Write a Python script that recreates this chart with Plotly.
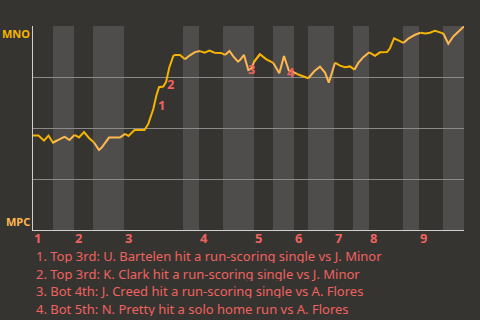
import plotly.graph_objects as go

# ---- data ----
# game progress (arbitrary play-time units, 0..431) and MNO win probability (0..1)
progress = [0, 5.5, 11, 15.5, 20, 24, 27, 31.3, 33, 36.5, 41.5, 46, 51, 56, 61, 66, 68.7, 76, 87,
            92, 95.5, 101.5, 111.5, 115.3, 120.3, 123.5, 126, 130.3, 133, 136.3, 140.3, 142, 147,
            152, 156.5, 162, 167, 171.5, 176.5, 181.5, 188, 192, 196.5, 200.5, 205, 207.5, 211,
            215.3, 218.7, 221, 227, 233, 240.3, 246.3, 251, 255.8, 259.5, 264, 275.3, 281.5, 287,
            292, 295.8, 302, 307, 312, 317, 321.5, 325.3, 330.3, 336.3, 342, 347, 354, 357, 361,
            366, 370.3, 375.3, 382, 387.5, 392.5, 397, 402, 407, 410.3, 415.3, 420.3, 425.3, 431]
win_prob = [0.463, 0.463, 0.438, 0.463, 0.428, 0.439, 0.445, 0.457, 0.453, 0.441, 0.466, 0.454,
            0.480, 0.451, 0.429, 0.392, 0.404, 0.453, 0.453, 0.471, 0.461, 0.490, 0.490, 0.520,
            0.593, 0.662, 0.700, 0.703, 0.725, 0.797, 0.853, 0.858, 0.858, 0.837, 0.855, 0.872,
            0.877, 0.869, 0.879, 0.869, 0.868, 0.858, 0.878, 0.850, 0.825, 0.836, 0.858, 0.784,
            0.792, 0.824, 0.862, 0.838, 0.819, 0.768, 0.853, 0.782, 0.776, 0.765, 0.744, 0.779,
            0.801, 0.772, 0.722, 0.820, 0.806, 0.798, 0.802, 0.786, 0.819, 0.847, 0.871, 0.854,
            0.871, 0.872, 0.891, 0.939, 0.928, 0.917, 0.938, 0.957, 0.967, 0.963, 0.967, 0.977,
            0.969, 0.963, 0.913, 0.949, 0.974, 0.998]

# half-inning boundaries (progress units)
half_innings = [0, 20, 41, 60, 91, 150, 166, 190, 221, 240, 261, 275, 301, 320, 336, 370, 386, 410, 431]
inning_labels = ["1", "2", "3", "4", "5", "6", "7", "8", "9"]

team_top = "MNO"
team_bottom = "MPC"

event_labels = ["1", "2", "3", "4"]
event_x = [128, 137.7, 218, 258]
event_y = [0.613, 0.714, 0.789, 0.775]
event_text = [
    "1. Top 3rd: U. Bartelen hit a run-scoring single vs J. Minor",
    "2. Top 3rd: K. Clark hit a run-scoring single vs J. Minor",
    "3. Bot 4th: J. Creed hit a run-scoring single vs A. Flores",
    "4. Bot 5th: N. Pretty hit a solo home run vs A. Flores",
]

# ---- styles ----
BG = "#363430"
BAND = "#4e4d4b"
YELLOW = "#f5b400"
ORANGE = "#ffb84f"
RED = "#f0625f"
FONT = "Noto Sans"

L, R, T, B = 33, 16, 26, 90
W, H = 480, 320
pw, ph = W - L - R, H - T - B


def py(px):
    return 1 - (px - T) / ph


def pxx(px):
    return (px - L) / pw


fig = go.Figure()

# line segments coloured per half-inning
for i in range(len(half_innings) - 1):
    a, b = half_innings[i], half_innings[i + 1]
    idx = [j for j in range(len(progress)) if a <= progress[j] <= b]
    if idx and idx[-1] + 1 < len(progress):
        idx.append(idx[-1] + 1)
    xs = [progress[j] for j in idx]
    ys = [win_prob[j] for j in idx]
    fig.add_trace(go.Scatter(x=xs, y=ys, mode="lines",
                             line=dict(color=YELLOW if i % 2 == 0 else ORANGE, width=2),
                             hoverinfo="skip", showlegend=False))

shapes = []
for i in range(1, len(half_innings) - 1, 2):
    shapes.append(dict(type="rect", xref="x", yref="y", x0=half_innings[i], x1=half_innings[i + 1],
                       y0=0, y1=1, fillcolor=BAND, line_width=0, layer="below"))

annotations = []
for k, lab in enumerate(inning_labels):
    annotations.append(dict(x=half_innings[2 * k], y=py(237.5), xref="x", yref="paper", text=lab,
                            showarrow=False, xanchor="left", yanchor="middle",
                            height=14, borderpad=0, valign="middle",
                            font=dict(family=FONT, size=13, color=RED, weight="bold")))
for lab, ex, ey in zip(event_labels, event_x, event_y):
    annotations.append(dict(x=ex, y=ey, xref="x", yref="y", text=lab, showarrow=False,
                            xanchor="center", yanchor="middle", height=14, borderpad=0,
                            font=dict(family=FONT, size=13, color=RED, weight="bold")))
for k, t in enumerate(event_text):
    annotations.append(dict(x=pxx(35), y=py(255.3 + 17.7 * k), xref="paper", yref="paper", text=t,
                            showarrow=False, xanchor="left", yanchor="middle",
                            height=15, borderpad=0, valign="middle",
                            font=dict(family=FONT, size=13, color=RED)))
annotations.append(dict(x=pxx(31), y=py(33), xref="paper", yref="paper", text=team_top,
                        showarrow=False, xanchor="right", yanchor="middle", borderpad=0,
                        font=dict(family=FONT, size=11, color=YELLOW, weight="bold")))
annotations.append(dict(x=pxx(31), y=py(221), xref="paper", yref="paper", text=team_bottom,
                        showarrow=False, xanchor="right", yanchor="middle", borderpad=0,
                        font=dict(family=FONT, size=11, color=ORANGE, weight="bold")))

fig.update_layout(
    width=W, height=H, margin=dict(l=L, r=R, t=T, b=B),
    paper_bgcolor=BG, plot_bgcolor=BG,
    shapes=shapes, annotations=annotations,
    xaxis=dict(range=[0, 431], showgrid=False, zeroline=False, showticklabels=False,
               showline=True, linecolor="#cfcfcf", linewidth=1, fixedrange=True),
    yaxis=dict(range=[0, 1], tickvals=[0, 0.25, 0.5, 0.75, 1], showticklabels=False,
               showgrid=True, gridcolor="#8a8a88", gridwidth=1, zeroline=False,
               showline=True, linecolor="#cfcfcf", linewidth=1, fixedrange=True),
    font=dict(family=FONT),
)

fig.write_html("out.html", config={"displayModeBar": False})
